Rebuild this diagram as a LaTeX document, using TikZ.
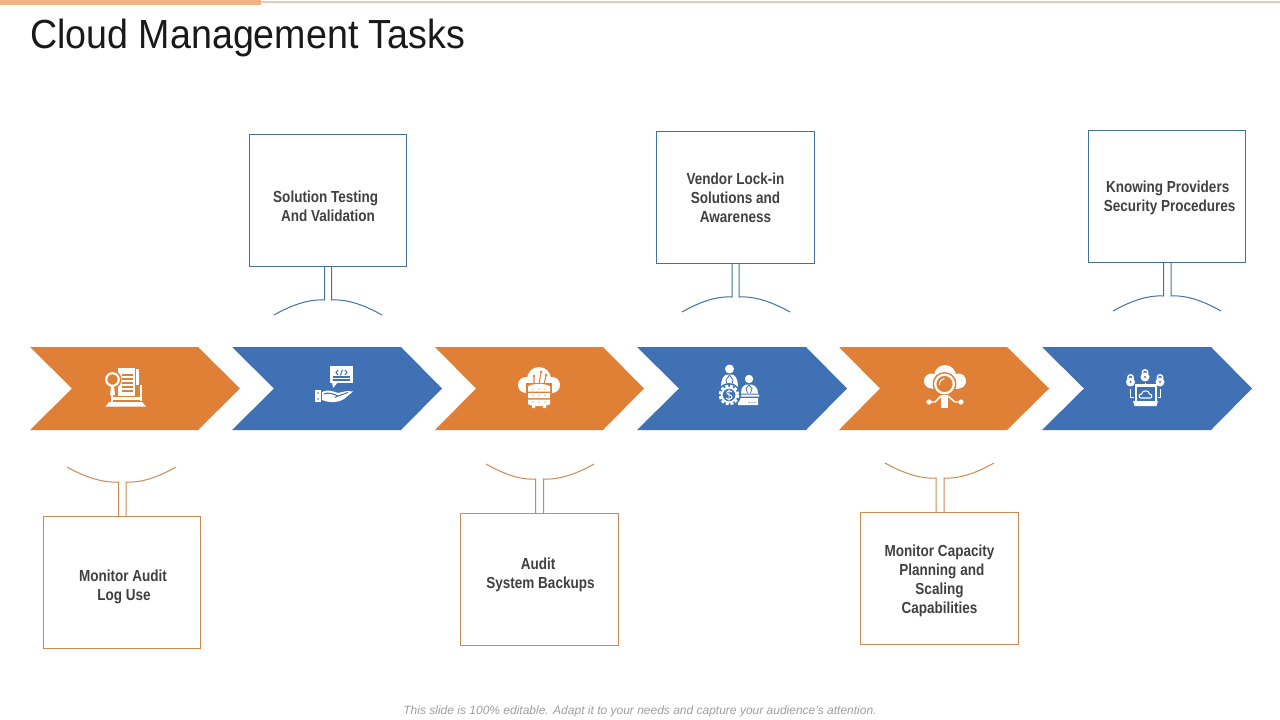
\documentclass[tikz,border=0pt]{standalone}
\usepackage{fontspec}
\setmainfont{Liberation Sans}
\newfontfamily\tasksfont[FakeStretch=0.845]{Liberation Sans}
\newfontfamily\titlefont[FakeStretch=0.925]{Liberation Sans}
\usepackage{tikz}
\definecolor{taskorange}{HTML}{E08037}
\definecolor{taskblue}{HTML}{4071B4}
\definecolor{boxblue}{HTML}{41719C}
\definecolor{boxorange}{HTML}{CC8A52}
\definecolor{barorange}{HTML}{F0B285}
\definecolor{barline}{HTML}{EBC8B2}
\definecolor{tasktext}{HTML}{404040}
\tikzset{
  orangebox/.style={draw=boxorange,line width=0.75pt,minimum width=117.5pt,minimum height=98.5pt,inner sep=0pt},
  bluebox/.style={orangebox,draw=boxblue},
  orangelink/.style={draw=boxorange,line width=0.75pt},
  bluelink/.style={draw=boxblue,line width=0.75pt},
  tasklabel/.style={align=center,text=tasktext,font=\tasksfont\bfseries\fontsize{12}{14.25}\selectfont},
  iconline/.style={draw=white,line width=1.1pt},
}
\begin{document}
\begin{tikzpicture}[x=0.75pt,y=-0.75pt]
\useasboundingbox (0,0) rectangle (1280,720);

% top bar and title
\fill[barorange] (0,0) rectangle (261,5);
\draw[barline,line width=0.9pt] (261,2) -- (1280,2);
\node[anchor=base west,inner sep=0pt,text=black!90,font=\titlefont\fontsize{30.5}{34}\selectfont] (title) at (30,49) {Cloud Management Tasks};

% chevrons
\fill[taskorange] (30,347) -- (198,347) -- (240,388.5) -- (198,430) -- (30,430) -- (72,388.5) -- cycle;
\fill[taskblue] (232,347) -- (401,347) -- (442,388.5) -- (401,430) -- (232,430) -- (274,388.5) -- cycle;
\fill[taskorange] (435,347) -- (603,347) -- (644,388.5) -- (603,430) -- (435,430) -- (476,388.5) -- cycle;
\fill[taskblue] (637,347) -- (806,347) -- (847,388.5) -- (806,430) -- (637,430) -- (679,388.5) -- cycle;
\fill[taskorange] (839,347) -- (1007,347) -- (1049,388.5) -- (1007,430) -- (839,430) -- (880,388.5) -- cycle;
\fill[taskblue] (1042,347) -- (1211,347) -- (1252,388.5) -- (1211,430) -- (1042,430) -- (1084,388.5) -- cycle;

% boxes
\node[bluebox] (testing) at (328,200.5) {};
\node[bluebox,minimum width=118.5pt] (vendor) at (735.5,197.5) {};
\node[bluebox] (providers) at (1167,196.5) {};
\node[orangebox] (audit) at (122,582.5) {};
\node[orangebox,minimum width=118.5pt] (backups) at (539.5,579.5) {};
\node[orangebox,minimum width=118.5pt] (capacity) at (939.5,578.5) {};

% box texts
\node[tasklabel,yshift=-4.5pt] (testinglabel) at (testing.center) {Solution Testing\kern3.5pt\\And Validation};
\node[tasklabel] (vendorlabel) at (vendor.center) {Vendor Lock-in\\Solutions and\\Awareness};
\node[tasklabel,xshift=2pt,yshift=-0.75pt] (providerslabel) at (providers.center) {Knowing Providers\kern3pt\\Security Procedures};
\node[tasklabel,xshift=1.5pt,yshift=-3.5pt] (auditlabel) at (audit.center) {Monitor Audit\kern1.5pt\\Log Use};
\node[tasklabel,xshift=0.75pt,yshift=3.75pt] (backupslabel) at (backups.center) {Audit\kern3.5pt\\System Backups};
\node[tasklabel,yshift=-1.5pt] (capacitylabel) at (capacity.center) {Monitor Capacity\\\kern3.5pt Planning and\\Scaling\\Capabilities};

% stems and arcs
\coordinate (testingL) at (324.5,300);
\coordinate (testingR) at (331.5,300);
\coordinate (testingA) at (274,315);
\coordinate (testingB) at (382,315);
\draw[bluelink] (testingA) .. controls +(16,-9) and +(-17,-1) .. (testingL) -- (testingL |- testing.south);
\draw[bluelink] (testingB) .. controls +(-16,-9) and +(17,-1) .. (testingR) -- (testingR |- testing.south);
\coordinate (vendorL) at (732,297);
\coordinate (vendorR) at (739,297);
\coordinate (vendorA) at (682,312);
\coordinate (vendorB) at (790,312);
\draw[bluelink] (vendorA) .. controls +(16,-9) and +(-17,-1) .. (vendorL) -- (vendorL |- vendor.south);
\draw[bluelink] (vendorB) .. controls +(-16,-9) and +(17,-1) .. (vendorR) -- (vendorR |- vendor.south);
\coordinate (providersL) at (1163.5,296);
\coordinate (providersR) at (1171,296);
\coordinate (providersA) at (1113,311);
\coordinate (providersB) at (1221,311);
\draw[bluelink] (providersA) .. controls +(16,-9) and +(-17,-1) .. (providersL) -- (providersL |- providers.south);
\draw[bluelink] (providersB) .. controls +(-16,-9) and +(17,-1) .. (providersR) -- (providersR |- providers.south);
\coordinate (auditL) at (118.5,482);
\coordinate (auditR) at (126,482);
\coordinate (auditA) at (67,467);
\coordinate (auditB) at (176,467);
\draw[orangelink] (auditA) .. controls +(16,9) and +(-17,1) .. (auditL) -- (auditL |- audit.north);
\draw[orangelink] (auditB) .. controls +(-16,9) and +(17,1) .. (auditR) -- (auditR |- audit.north);
\coordinate (backupsL) at (535.5,479);
\coordinate (backupsR) at (543.5,479);
\coordinate (backupsA) at (486,464);
\coordinate (backupsB) at (594,464);
\draw[orangelink] (backupsA) .. controls +(16,9) and +(-17,1) .. (backupsL) -- (backupsL |- backups.north);
\draw[orangelink] (backupsB) .. controls +(-16,9) and +(17,1) .. (backupsR) -- (backupsR |- backups.north);
\coordinate (capacityL) at (936,478);
\coordinate (capacityR) at (944,478);
\coordinate (capacityA) at (885,463);
\coordinate (capacityB) at (994,463);
\draw[orangelink] (capacityA) .. controls +(16,9) and +(-17,1) .. (capacityL) -- (capacityL |- capacity.north);
\draw[orangelink] (capacityB) .. controls +(-16,9) and +(17,1) .. (capacityR) -- (capacityR |- capacity.north);

% icon 1: document and magnifier
\fill[white] (118,368) rectangle (135,396);
\draw[taskorange,line width=0.9pt] (122,375) -- (133,375) (122,379) -- (133,379) (122,383) -- (133,383) (122,387) -- (133,387) (122,391) -- (133,391);
\fill[white] (136,369) rectangle (139,385);
\fill[white] (139.5,385) rectangle (141.5,401);
\fill[white] (112,397) rectangle (141,400);
\fill[white] (110.5,395) rectangle (113,402);
\fill[taskorange] (112.5,379.5) circle (9);
\draw[white,line width=1.6pt] (112.5,379.5) circle (6.3);
\fill[white] (111,386) -- (114,386) -- (115,395) -- (110,395) -- cycle;
\fill[white] (109,402) -- (142,402) -- (146,406.5) -- (105.5,406.5) -- cycle;

% icon 2: code bubble and hand
\fill[white] (330,366) rectangle (353,383);
\fill[white] (332,382) -- (338,382) -- (333,388) -- cycle;
\draw[taskblue,line width=0.8pt] (338,370) -- (336,372.5) -- (338,375) (345,370) -- (347,372.5) -- (345,375) (342.5,369.5) -- (340.5,375.5);
\draw[taskblue,line width=0.8pt] (333,377) -- (350,377) (333,380) -- (350,380);
\fill[white] (315,390) rectangle (321,402);
\fill[taskblue] (318,393) circle (0.9) (318,399) circle (0.9);
\fill[white] (322,392) .. controls (328,389) and (332,391) .. (338,393) -- (347,391) -- (353,391.5) -- (344,399) .. controls (338,403) and (330,403) .. (322,400) -- cycle;
\draw[taskblue,line width=0.8pt] (324,394) .. controls (329,392) and (333,394) .. (338,396) -- (335,397.5) (338,396) -- (348,392.5);

% icon 3: cloud with server
\fill[white] (526,385) circle (8) (552,385) circle (8) (539,379) circle (12);
\fill[white] (526,385) rectangle (552,393);
\fill[taskorange] (526,383) rectangle (552,409);
\fill[white] (528,386) rectangle (550,391.5) (528,393) rectangle (550,398) (528,399.5) rectangle (550,404);
\fill[white] (528,386.5) .. controls (532,383) and (546,383) .. (550,386.5) -- cycle;
\fill[white] (528,404) .. controls (532,407) and (546,407) .. (550,404) -- cycle;
\fill[white] (532,405) rectangle (535,408) (543,405) rectangle (546,408);
\draw[taskorange,line width=0.8pt] (534,384) -- (534,377) (539,384) -- (541,373) (544,384) -- (546,376);
\fill[taskorange] (534,376) circle (1.4) (541,372) circle (1.4) (546,375) circle (1.4);
\fill[taskorange] (533,395.5) circle (0.7) (539,395.5) circle (0.7) (545,395.5) circle (0.7) (533,402) circle (0.7) (539,402) circle (0.7) (545,402) circle (0.7) (533,389) circle (0.7) (539,389) circle (0.7) (545,389) circle (0.7);

% icon 4: two people, gear and desk
\fill[white] (729.5,369) circle (4.5) (749,379) circle (4.2);
\fill[white] (721,388) .. controls (721,378) and (724,375) .. (727,374.5) -- (732,374.5) .. controls (735,375) and (738,378) .. (738,388) -- cycle;
\draw[taskblue,line width=0.6pt] (729.5,375) -- (726,380) -- (728,387) (729.5,375) -- (733,380) -- (731,387);
\fill[white] (741,393.5) .. controls (741,387) and (744,385) .. (747,384.5) -- (751,384.5) .. controls (754,385) and (758,387) .. (758,393.5) -- cycle;
\draw[taskblue,line width=0.6pt] (749,385) -- (746,388.5) -- (747.5,393) (749,385) -- (752,388.5) -- (750.5,393);
\fill[white] (738,394.5) rectangle (759,396.5) (738,398) rectangle (758,405);
\fill[taskblue] (729,395) circle (12);
\draw[white,dash pattern=on 2.2pt off 1.4pt,line width=2pt] (729,395) circle (9);
\draw[white,line width=1.3pt] (729,395) circle (7.3);
\draw[white,line width=0.7pt] (732,392) .. controls (729,389.5) and (726,391.5) .. (727,393.5) .. controls (728,395.5) and (732,394.5) .. (732,397) .. controls (732,399.5) and (728,400) .. (726,398) (729,389) -- (729,401);
\fill[taskblue] (749,402.5) circle (0.6) (752,402.5) circle (0.6) (755,402.5) circle (0.6);

% icon 5: cloud, magnifier and two dots
\fill[white] (931.5,381) circle (7.5) (958.5,381) circle (7.5) (945,376) circle (11);
\fill[white] (931.5,381) rectangle (958.5,388.5);
\fill[taskorange] (944.5,384) circle (12);
\draw[white,line width=1.7pt] (944.5,384) circle (9.3);
\draw[white,line width=0.7pt] (939.5,385) .. controls (939.5,381) and (941.5,379) .. (944.5,378.5);
\fill[white] (941,395) rectangle (948,408);
\fill[white] (929,402) circle (2.6) (961,402) circle (2.6);
\draw[iconline] (929,402) -- (935,402) -- (941,396);
\draw[iconline] (961,402) -- (955,402) -- (948,396);

% icon 6: locks and laptop
\fill[white] (1130.5,382) circle (4.5) (1145,377) circle (4.5) (1160,382) circle (4.5);
\draw[white,line width=1.1pt] (1130.5,377.5) circle (2.7) (1145,372.5) circle (2.7) (1160,377.5) circle (2.7);
\fill[taskblue] (1130.5,382) circle (1.1) (1145,377) circle (1.1) (1160,382) circle (1.1);
\draw[white,line width=1.6pt] (1136,385.5) rectangle (1156,402);
\fill[white] (1133,401) -- (1158,401) -- (1156.5,406) -- (1134.5,406) -- cycle;
\draw[white,line width=0.8pt] (1141,398) .. controls (1138.5,398) and (1138.5,394) .. (1141.5,394) .. controls (1142.5,389.5) and (1149,390) .. (1149.5,394) .. controls (1152.5,394) and (1152.5,398) .. (1150,398) -- cycle;
\draw[white,line width=0.7pt] (1130.5,389) -- (1130.5,397) -- (1133.5,397) (1160.5,389) -- (1160.5,397) -- (1158,397) (1145,382.5) -- (1145,384.5);

% footer
\node[inner sep=0pt,text=black!38,font=\itshape\fontsize{9}{11}\selectfont] (footer) at (640,711) {This slide is 100\% editable. Adapt it to your needs and capture your audience's attention.};
\end{tikzpicture}
\end{document}
